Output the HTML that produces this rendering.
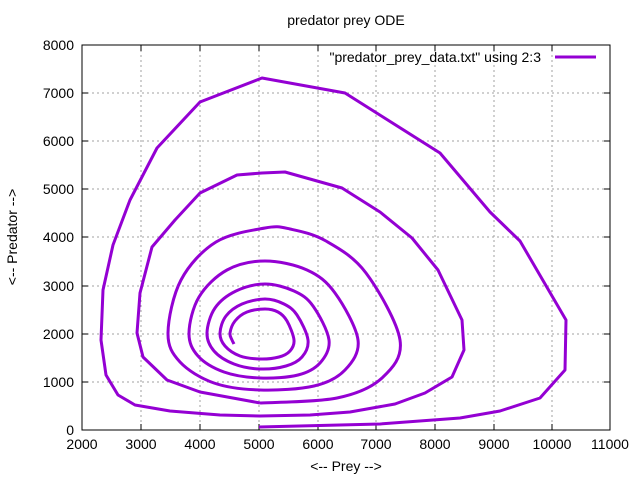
<!DOCTYPE html>
<html><head><meta charset="utf-8"><style>body{margin:0;background:#fff}svg{display:block}text{font-family:"Liberation Sans",sans-serif;font-size:14px;fill:#000}</style></head><body>
<svg width="640" height="480" viewBox="0 0 640 480">
<g stroke="#a0a0a0" stroke-width="1" stroke-dasharray="2,3">
<path d="M141,45V430M200,45V430M259,45V430M318,45V430M376,45V430M435,45V430M494,45V430M552,45V430"/>
<path d="M82,382H610M82,334H610M82,286H610M82,237H610M82,189H610M82,141H610M82,93H610"/>
</g>
<g stroke="#000" stroke-width="1">
<path d="M141,430v-6M200,430v-6M259,430v-6M318,430v-6M376,430v-6M435,430v-6M494,430v-6M552,430v-6M141,45v6M200,45v6M259,45v6M318,45v6M376,45v6M435,45v6M494,45v6M552,45v6"/>
<path d="M82,382h6M82,334h6M82,286h6M82,237h6M82,189h6M82,141h6M82,93h6M610,382h-6M610,334h-6M610,286h-6M610,237h-6M610,189h-6M610,141h-6M610,93h-6"/>
<rect x="82" y="45" width="528" height="385" fill="none"/>
</g>
<g text-anchor="end">
<text x="74" y="435">0</text><text x="74" y="387">1000</text><text x="74" y="339">2000</text><text x="74" y="291">3000</text><text x="74" y="242">4000</text><text x="74" y="194">5000</text><text x="74" y="146">6000</text><text x="74" y="98">7000</text><text x="74" y="50">8000</text>
</g>
<g text-anchor="middle">
<text x="82" y="449">2000</text><text x="141" y="449">3000</text><text x="200" y="449">4000</text><text x="259" y="449">5000</text><text x="318" y="449">6000</text><text x="376" y="449">7000</text><text x="435" y="449">8000</text><text x="494" y="449">9000</text><text x="552" y="449">10000</text><text x="610" y="449">11000</text>
<text x="346" y="25">predator prey ODE</text>
<text x="346" y="471">&lt;-- Prey --&gt;</text>
<text transform="translate(17,237) rotate(-90)">&lt;-- Predator --&gt;</text>
</g>
<text x="541" y="62" text-anchor="end">"predator_prey_data.txt" using 2:3</text>
<path d="M555,57H596" stroke="#9400d3" stroke-width="3"/>
<polyline fill="none" stroke="#9400d3" stroke-width="3" stroke-linejoin="round" points="259,427 380,424 460,418 500,411 540,398 565,370 566,320 520,241 490,212 440,153 345,93 262,78 200,102 157,148 130,200 113,245 103,290 101,340 106,375 118,395 135,405 170,411 220,415 260,416 310,415 350,412 395,404 425,393 452,377 464,350 462,320 438,270 412,238 380,212 342,188 285,172 262,173 237,175 200,193 175,220 152,247 140,293 137,333 143,357 167,380 200,392 260,403"/>
<polyline id="inner" fill="none" stroke="#9400d3" stroke-width="3" stroke-linejoin="round" points="260,403 337,398 382,378 400,340 366,273 326,241 290,229 265,228 216,242 181,280 168,333 180,362 214,383 260,390 314,386 345,370 358,340 335,293 307,270 265,261 227,270 199,297 189,333 198,356 224,372 260,378 298,375 320,363 329,340 313,306 294,291 265,284 236,291 215,308 207,333 214,351 234,364 260,369 286,366 302,357 308,340 297,315 284,304 265,299 242,304 226,316 220,333 225,346 240,356 260,359 279,357 290,351 294,340 287,321 278,312 265,309 247,312 235,321 230,333 232,340 234,344"/>
</svg>
<script>
(function(){var pl=document.getElementById('inner');var s=pl.getAttribute('points').trim().split(/\s+/).map(function(q){return q.split(',').map(Number)});
var d='M'+s[0][0]+','+s[0][1];for(var i=0;i<s.length-1;i++){var p0=s[i-1]||s[i],p1=s[i],p2=s[i+1],p3=s[i+2]||s[i+1];
var c1=[p1[0]+(p2[0]-p0[0])/6,p1[1]+(p2[1]-p0[1])/6],c2=[p2[0]-(p3[0]-p1[0])/6,p2[1]-(p3[1]-p1[1])/6];
d+=' C'+c1[0].toFixed(1)+','+c1[1].toFixed(1)+' '+c2[0].toFixed(1)+','+c2[1].toFixed(1)+' '+p2[0]+','+p2[1];}
var p=document.createElementNS('http://www.w3.org/2000/svg','path');p.setAttribute('d',d);p.setAttribute('fill','none');p.setAttribute('stroke','#9400d3');p.setAttribute('stroke-width','3');pl.parentNode.replaceChild(p,pl);})();
</script>
</body></html>
